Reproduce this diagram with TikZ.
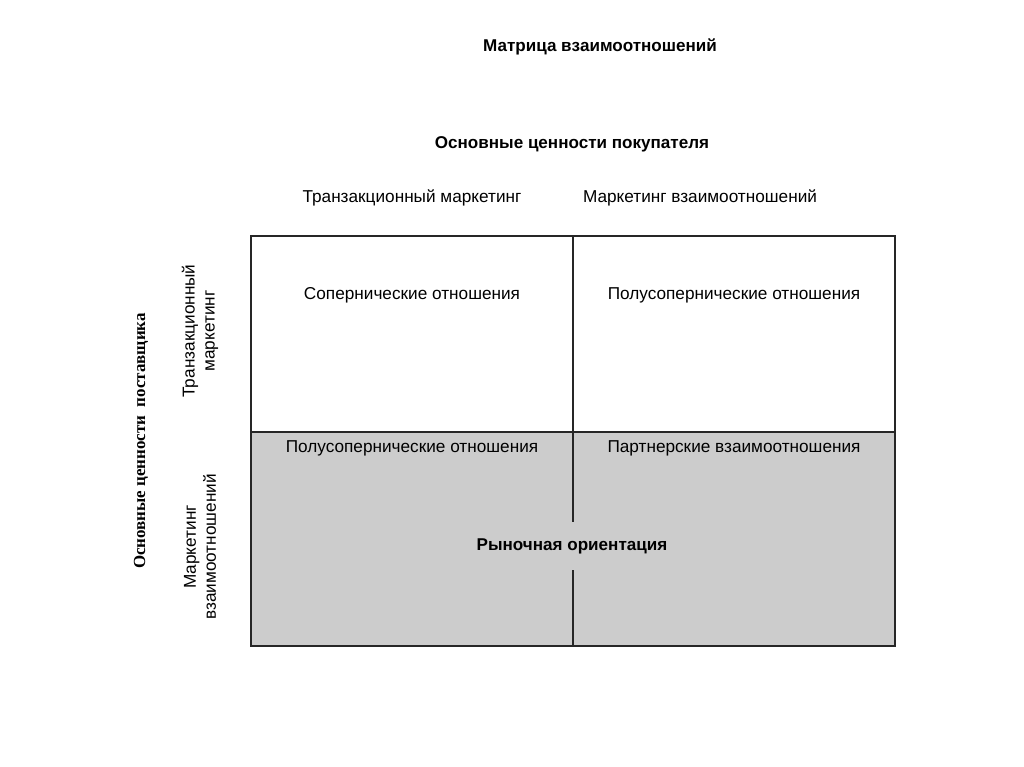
\documentclass[tikz,border=0pt]{standalone}
\usepackage{fontspec}
\setmainfont{Liberation Sans}
\newfontfamily\serifbold{Liberation Serif}
\usetikzlibrary{
    calc,
    positioning
}
\definecolor{cellgray}{HTML}{CCCCCC}
\tikzset{
  every path/.style={
    black!85,
    line width=0.9pt
  },
  every node/.style={
    text=black,
    inner sep=1.5pt,
    font=\fontsize{12.9}{14.5}\selectfont
  },
  head/.style={
    font=\fontsize{12.8}{14.5}\selectfont\bfseries
  },
  sidelabel/.style={
    rotate=90,
    align=center,
    font=\fontsize{12.9}{15}\selectfont
  }
}

\begin{document}
\begin{tikzpicture}[x=0.75pt, y=-0.75pt]
    \useasboundingbox (0,0) rectangle (1024,767);

    % матрица
    \coordinate (nw) at (251,236);
    \coordinate (se) at (895,646);
    \coordinate (wm) at (251,432);
    \coordinate (em) at (895,432);
    \coordinate (nm) at (573,236);
    \coordinate (cm) at (573,432);
    \coordinate (sm) at (573,646);
    \fill[cellgray] (wm) rectangle (se);
    \draw (nw) rectangle (se);
    \draw (wm) -- (em);
    \draw (nm) -- (sm);

    % заголовки
    \node[head] (title) at (600,47) {Матрица взаимоотношений};
    \node[head] (buyer) at (572,144) {Основные ценности покупателя};
    \node (colA) at (412,198) {Транзакционный маркетинг};
    \node (colB) at (700,198) {Маркетинг взаимоотношений};

    % ячейки
    \node (cellAA) at (412,295) {Сопернические отношения};
    \node (cellAB) at (734,295) {Полусопернические отношения};
    \node (cellBA) at (412,448) {Полусопернические отношения};
    \node (cellBB) at (734,448) {Партнерские взаимоотношения};
    \node[head, fill=cellgray, inner ysep=12pt] (orient) at (572,546) {Рыночная ориентация};

    % слева
    \node[rotate=90, font=\serifbold\fontsize{12.7}{15}\selectfont\bfseries] (supplier) at (141,441)
        {Основные ценности\ \ поставщика};
    \node[sidelabel] (rowA) at (200,331) {Транзакционный\\маркетинг};
    \node[sidelabel] (rowB) at (200,547) {Маркетинг\\взаимоотношений};
\end{tikzpicture}
\end{document}
